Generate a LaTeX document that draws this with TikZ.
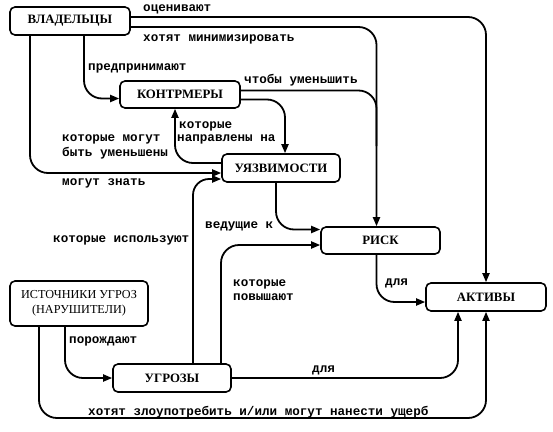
\documentclass[tikz,border=0pt]{standalone}
\usepackage{fontspec}
\setmainfont{Liberation Serif}
\newfontfamily\labfont{Liberation Mono}
\usetikzlibrary{arrows.meta}
\begin{document}
\begin{tikzpicture}[x=1pt,y=-1pt,
  box/.style={draw, line width=1.6pt, rounded corners=5pt, inner sep=0pt,
    font=\fontsize{12.8}{14}\selectfont\bfseries},
  boxr/.style={box, font=\fontsize{12.2}{15}\selectfont, align=center},
  lab/.style={anchor=base west, inner sep=0pt,
    font=\labfont\bfseries\fontsize{12.6}{14}\selectfont},
  conn/.style={line width=1.8pt, rounded corners=18pt},
  arr/.style={conn, -{Triangle[length=9pt,width=7pt]}}]
\useasboundingbox (0,0) rectangle (553,431);
% nodes
\node[box, minimum width=120pt, minimum height=28pt] (own) at (70,21) {ВЛАДЕЛЬЦЫ};
\node[box, minimum width=120pt, minimum height=27pt] (kontr) at (180,94.5) {КОНТРМЕРЫ};
\node[box, minimum width=118pt, minimum height=28pt] (uy) at (281,168) {УЯЗВИМОСТИ};
\node[box, minimum width=119pt, minimum height=27pt] (risk) at (380.5,240.5) {РИСК};
\node[box, minimum width=120pt, minimum height=28pt] (act) at (486,297) {АКТИВЫ};
\node[boxr, minimum width=138pt, minimum height=45pt] (ist) at (79,303.5) {ИСТОЧНИКИ УГРОЗ\\(НАРУШИТЕЛИ)};
\node[box, minimum width=118pt, minimum height=28pt] (ugr) at (172,378) {УГРОЗЫ};
% helper coordinates
\path ([xshift=-4pt]risk.north) ++(0,-80) coordinate (m1);
\coordinate (bot) at (250,418);
% connectors
\draw[arr] ([yshift=4pt]own.east) -| (act.north);
\draw[arr] ([yshift=-6pt]own.east) -| ([xshift=-4pt]risk.north);
\draw[arr] ([xshift=14pt]own.south) |- ([yshift=-4pt]kontr.west);
\draw[arr] ([xshift=-40pt]own.south) |- ([yshift=-5pt]uy.west);
\draw[conn] ([yshift=4pt]kontr.east) -| (m1);
\draw[arr] ([yshift=-5pt]kontr.east) -| ([xshift=4pt]uy.north);
\draw[arr] ([yshift=5pt]uy.west) -| ([xshift=-5pt]kontr.south);
\draw[arr] ([xshift=-5pt]uy.south) |- ([yshift=11pt]risk.west);
\draw[arr,rounded corners=16pt] ([xshift=21pt]ugr.north) |- ([yshift=-11pt]uy.west);
\draw[arr] ([xshift=49pt]ugr.north) |- ([yshift=-4.5pt]risk.west);
\draw[arr] (ugr.east) -| ([xshift=-28pt]act.south);
\draw[arr] ([xshift=-40pt]ist.south) |- (bot) -| (act.south);
\draw[arr] ([xshift=-14pt]ist.south) |- (ugr.west);
\draw[arr] ([xshift=-4pt]risk.south) |- ([yshift=-5pt]act.west);
% labels
\node[lab] (l1) at (143,11.5) {оценивают};
\node[lab] (l2) at (143,41.5) {хотят минимизировать};
\node[lab] (l3) at (88,70.5) {предпринимают};
\node[lab] (l4) at (244,83.5) {чтобы уменьшить};
\node[lab] (l5a) at (179,128.5) {которые};
\node[lab] (l5b) at (177,141.5) {направлены на};
\node[lab] (l6a) at (62,141.5) {которые могут};
\node[lab] (l6b) at (62,156.5) {быть уменьшены};
\node[lab] (l7) at (62,185.5) {могут знать};
\node[lab] (l8) at (205,228.5) {ведущие к};
\node[lab] (l9) at (53,242.5) {которые используют};
\node[lab] (l10a) at (233,286.5) {которые};
\node[lab] (l10b) at (233,300.5) {повышают};
\node[lab] (l11) at (385,285.5) {для};
\node[lab] (l12) at (69,343.5) {порождают};
\node[lab] (l13) at (312,372) {для};
\node[lab] (l14) at (88,415) {хотят злоупотребить и/или могут нанести ущерб};
\end{tikzpicture}
\end{document}
